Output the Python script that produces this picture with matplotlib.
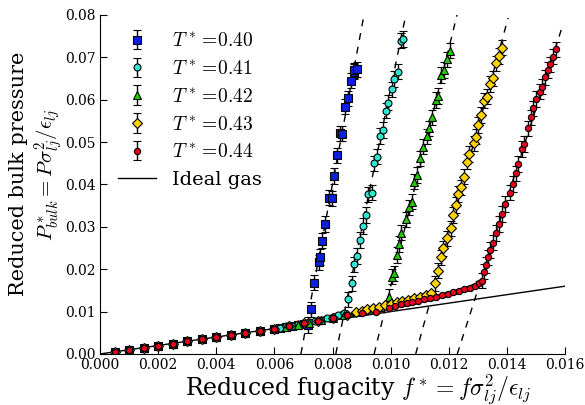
import numpy as np
import matplotlib
matplotlib.use('Agg')
import matplotlib.pyplot as plt
from matplotlib import ticker

plt.rcParams['font.family'] = ['DejaVu Serif']
plt.rcParams['mathtext.fontset'] = 'cm'

# low fugacity gas points shared by every temperature
f_common = [0.0005, 0.0010, 0.0015, 0.0020, 0.0025, 0.0030, 0.0035, 0.0040,
            0.0045, 0.0050, 0.0055, 0.0060]
p_common = [0.00054, 0.00102, 0.00149, 0.00196, 0.00243, 0.00307, 0.00354, 0.00394,
            0.00441, 0.00488, 0.00543, 0.00590]

# T* = 0.40
f_040_gas = [0.0062, 0.0064, 0.0066, 0.0068, 0.0070]
p_040_gas = [0.0061, 0.0064, 0.0066, 0.0069, 0.0071]
f_040_liq = [0.00717, 0.00726, 0.00736, 0.00754, 0.00757, 0.00764, 0.00775, 0.00787,
             0.00797, 0.00806, 0.00816, 0.00827, 0.00834, 0.00844, 0.00854, 0.00864,
             0.00872, 0.00874, 0.00885]
p_040_liq = [0.00684, 0.01055, 0.01683, 0.0216, 0.0229, 0.0267, 0.0307, 0.0369,
             0.0367, 0.0420, 0.0469, 0.0521, 0.0520, 0.0584, 0.0603, 0.0645,
             0.0666, 0.0669, 0.0672]

# T* = 0.41
f_041_gas = [0.0062, 0.0064, 0.0066, 0.0068, 0.0070, 0.0072, 0.0074, 0.0076, 0.0078,
             0.0080, 0.0082, 0.0084]
p_041_gas = [0.0062, 0.0065, 0.0067, 0.0070, 0.0072, 0.0075, 0.0078, 0.0081, 0.0085,
             0.0088, 0.0092, 0.0097]
f_041_liq = [0.00854, 0.00866, 0.00874, 0.00883, 0.00895, 0.00904, 0.00915, 0.00923,
             0.00935, 0.00944, 0.00954, 0.00963, 0.00973, 0.00984, 0.00992, 0.01004,
             0.01013, 0.01026, 0.01036, 0.01044]
p_041_liq = [0.01291, 0.01668, 0.02117, 0.02313, 0.02690, 0.03021, 0.03280, 0.03769,
             0.03807, 0.04500, 0.04656, 0.05145, 0.05286, 0.05742, 0.05930, 0.06247,
             0.06490, 0.06662, 0.07394, 0.07434]

# T* = 0.42
f_042_gas = [0.0064, 0.0068, 0.0072, 0.0076, 0.0080, 0.0084, 0.0088, 0.0092, 0.0096]
p_042_gas = [0.0064, 0.0069, 0.0074, 0.0079, 0.0085, 0.0091, 0.0098, 0.0104, 0.0111]
f_042_liq = [0.00995, 0.01004, 0.01013, 0.01023, 0.01029, 0.01035, 0.01053, 0.01062,
             0.01073, 0.01081, 0.01092, 0.01101, 0.01112, 0.01124, 0.01132, 0.01143,
             0.01156, 0.01164, 0.01173, 0.01183, 0.01195, 0.01204]
p_042_liq = [0.01352, 0.01824, 0.01904, 0.02336, 0.02596, 0.02863, 0.03179, 0.03462,
             0.03594, 0.04066, 0.04224, 0.04618, 0.04892, 0.05137, 0.05326, 0.05586,
             0.05994, 0.06089, 0.06584, 0.06702, 0.06955, 0.07158]

# T* = 0.43
f_043_gas = [0.0065, 0.0070, 0.0075, 0.0080, 0.0085, 0.0088, 0.0090, 0.0092, 0.0094,
             0.0096, 0.0098, 0.0100, 0.0102, 0.0104, 0.0106, 0.0108, 0.0110, 0.0112,
             0.0114]
p_043_gas = [0.0066, 0.0072, 0.0078, 0.0085, 0.0093, 0.0098, 0.0101, 0.0105, 0.0108,
             0.0112, 0.0115, 0.0118, 0.0122, 0.0125, 0.0128, 0.0132, 0.0135, 0.0139,
             0.0143]
f_043_liq = [0.01153, 0.01161, 0.01172, 0.01181, 0.01193, 0.01207, 0.01216, 0.01225,
             0.01233, 0.01242, 0.01252, 0.01262, 0.01271, 0.01285, 0.01293, 0.01302,
             0.01311, 0.01321, 0.01331, 0.01342, 0.01353, 0.01362, 0.01371, 0.01382]
p_043_liq = [0.01668, 0.01966, 0.02282, 0.02494, 0.02730, 0.02966, 0.03280, 0.03516,
             0.03776, 0.03934, 0.04184, 0.04538, 0.04720, 0.04972, 0.05128, 0.05404,
             0.05640, 0.05978, 0.06072, 0.06372, 0.06506, 0.06860, 0.07032, 0.07228]

# T* = 0.44
f_044_gas = [0.0065, 0.0070, 0.0075, 0.0080, 0.0085, 0.0090, 0.0095,
             0.00994, 0.01015, 0.01036, 0.01055, 0.01074, 0.01095, 0.01116, 0.01135,
             0.01156, 0.01176, 0.01196, 0.01216, 0.01235, 0.01253, 0.01273, 0.01290,
             0.01305]
p_044_gas = [0.0066, 0.0072, 0.0078, 0.0084, 0.0092, 0.0096, 0.0100,
             0.01093, 0.01140, 0.01173, 0.01196, 0.01227, 0.01258, 0.01291, 0.01322,
             0.01353, 0.01385, 0.01423, 0.01456, 0.01494, 0.01526, 0.01565, 0.01612,
             0.01683]
f_044_liq = [0.01313, 0.01321, 0.01328, 0.01333, 0.01340, 0.01353, 0.01363, 0.01373,
             0.01383, 0.01394, 0.01411, 0.01420, 0.01430, 0.01439, 0.01451, 0.01460,
             0.01472, 0.01482, 0.01491, 0.01500, 0.01512, 0.01520, 0.01531, 0.01540,
             0.01548, 0.01560, 0.01569]
p_044_liq = [0.01730, 0.01942, 0.02100, 0.02280, 0.02454, 0.02627, 0.02855, 0.03068,
             0.03304, 0.03540, 0.03807, 0.04012, 0.04264, 0.04484, 0.04838, 0.04956,
             0.05326, 0.05586, 0.05798, 0.06018, 0.06190, 0.06308, 0.06530, 0.06702,
             0.06837, 0.07016, 0.07191]

err_gas = 0.0004
err_liq = 0.0018

# dashed guide lines (start on the axis, end near the top)
dash_f_start = [0.00691, 0.00811, 0.00943, 0.01086, 0.01229]
dash_f_end = [0.00908, 0.01052, 0.01228, 0.01404, 0.01590]
dash_p_end = [0.0800, 0.0800, 0.0800, 0.0793, 0.0772]

ideal_f = [0.0, 0.016]

series = [
    (f_040_gas, p_040_gas, f_040_liq, p_040_liq, 's', '#0a1fe0', 5.5, r'$T^* =\!0.40$'),
    (f_041_gas, p_041_gas, f_041_liq, p_041_liq, 'o', '#2ee6d4', 5.0, r'$T^* =\!0.41$'),
    (f_042_gas, p_042_gas, f_042_liq, p_042_liq, '^', '#22cc00', 5.5, r'$T^* =\!0.42$'),
    (f_043_gas, p_043_gas, f_043_liq, p_043_liq, 'D', '#ffd400', 5.0, r'$T^* =\!0.43$'),
    (f_044_gas, p_044_gas, f_044_liq, p_044_liq, 'o', '#e8001c', 4.5, r'$T^* =\!0.44$'),
]

fig = plt.figure(figsize=(5.85, 4.05), dpi=100)
ax = fig.add_axes([0.171, 0.126, 0.795, 0.837])

for x0, x1, y1 in zip(dash_f_start, dash_f_end, dash_p_end):
    ax.plot([x0, x1], [0.0, y1], color='k', lw=1.0, ls=(0, (5, 5)))

handles = []
for fg, pg, fl, pl, mk, col, ms, lab in series:
    ff = np.array(f_common + fg + fl)
    pp = np.array(p_common + pg + pl)
    err = np.array([err_gas] * (len(f_common) + len(fg)) + [err_liq] * len(fl))
    h = ax.errorbar(ff, pp, yerr=err, fmt=mk, color=col, mec='k', mew=0.8, ms=ms,
                    ecolor='k', elinewidth=1.0, capsize=3, capthick=1.0, label=lab)
    handles.append(h)

line, = ax.plot(ideal_f, ideal_f, color='k', lw=1.0, label='Ideal gas')
handles.append(line)

ax.set_xlim(0, 0.016)
ax.set_ylim(0, 0.08)
ax.xaxis.set_major_locator(ticker.MultipleLocator(0.002))
ax.yaxis.set_major_locator(ticker.MultipleLocator(0.01))
ax.xaxis.set_major_formatter(ticker.FormatStrFormatter('%.3f'))
ax.yaxis.set_major_formatter(ticker.FormatStrFormatter('%.2f'))
ax.spines['top'].set_visible(False)
ax.spines['right'].set_visible(False)
ax.xaxis.set_ticks_position('bottom')
ax.yaxis.set_ticks_position('left')
ax.tick_params(direction='in', length=5, labelsize=10, pad=3)

ax.set_xlabel(r'Reduced fugacity $f^* = f\sigma_{lj}^2/\epsilon_{lj}$', fontsize=17)
ax.xaxis.set_label_coords(0.555, -0.055)
ax.set_ylabel('Reduced bulk pressure\n' + r'$P_{bulk}^* = P\sigma_{lj}^2/\epsilon_{lj}$',
              fontsize=15)
ax.yaxis.set_label_coords(-0.075, 0.53)

ax.legend(handles=handles, loc='upper left', frameon=False, numpoints=1, fontsize=14,
          labelspacing=0.5, handlelength=2.0, borderaxespad=0.5)

plt.savefig('out.png', dpi=100)
